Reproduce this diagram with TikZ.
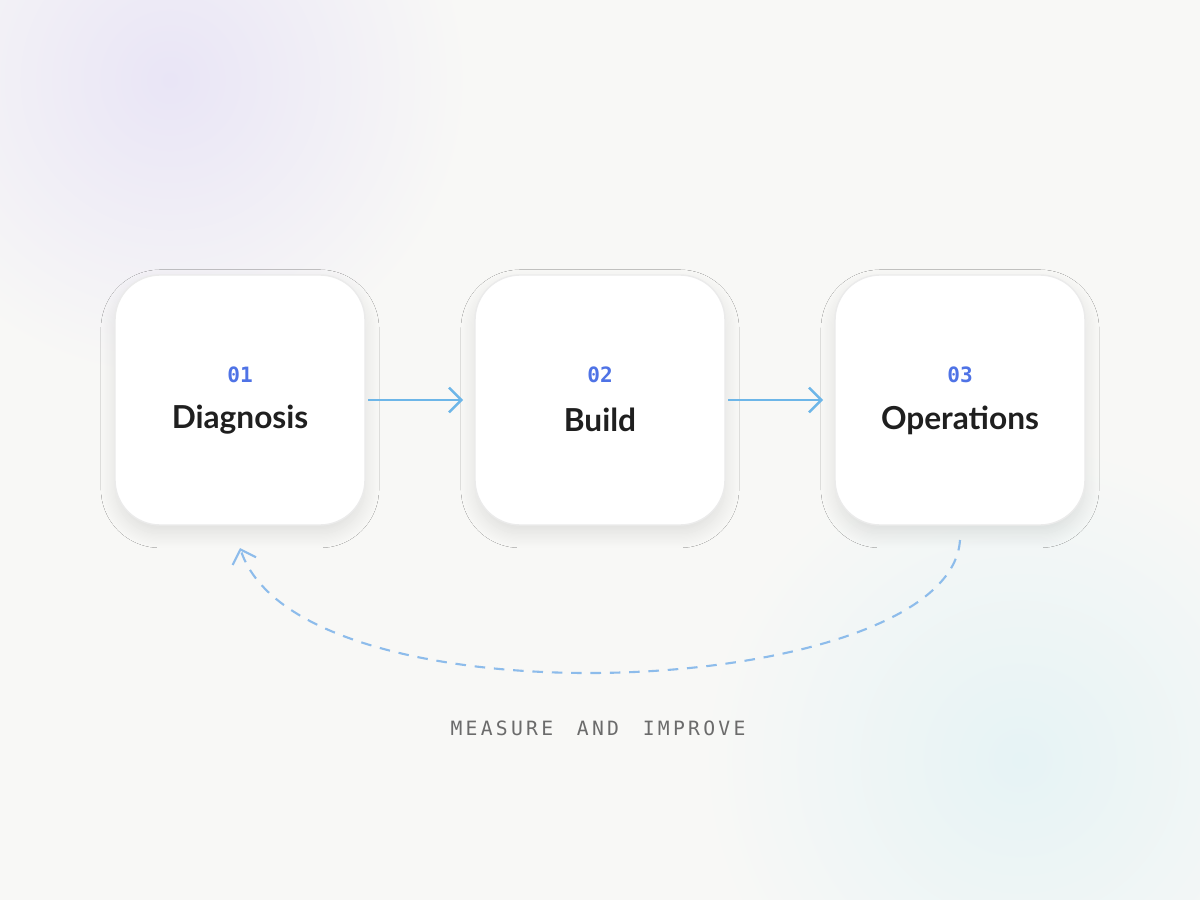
\documentclass[tikz,border=0pt]{standalone}
\usepackage{fontspec}
\setmainfont{Lato}
\setmonofont{DejaVu Sans Mono}
\usetikzlibrary{shadows.blur,arrows.meta}
\definecolor{bg}{HTML}{F8F8F6}
\definecolor{lilac}{HTML}{E9E5F6}
\definecolor{mint}{HTML}{E6F3F5}
\definecolor{numblue}{HTML}{4F73E6}
\definecolor{arrblue}{HTML}{6DB6E8}
\definecolor{dashblue}{HTML}{8DBCEB}
\definecolor{labgray}{HTML}{6B6B6B}
\newcommand{\boxr}{45}

\begin{document}
\begin{tikzpicture}[x=0.01cm,y=-0.01cm,
  stage/.style={draw=black!8, fill=white, rounded corners=\boxr*0.01cm,
    minimum width=250*0.01cm, minimum height=250*0.01cm,
    blur shadow={shadow blur steps=12, shadow xshift=0pt, shadow yshift=-2.5pt,
      shadow blur radius=4pt, shadow opacity=10}},
  num/.style={font=\ttfamily\bfseries\fontsize{6}{7}\selectfont, text=numblue},
  ttl/.style={font=\bfseries\fontsize{9}{11}\selectfont, text=black!88},
  flow/.style={arrblue, line width=0.7pt, -{Straight Barb[length=3.5pt,width=7pt]}}]
    % backdrop
\useasboundingbox (0,0) rectangle (1200,900);
\begin{scope}
\clip (0,0) rectangle (1200,900);
\fill[bg] (0,0) rectangle (1200,900);
\shade[inner color=lilac, outer color=bg] (170,80) circle (300);
\shade[inner color=mint, outer color=bg] (1020,760) circle (320);
\end{scope}
    % stages
\node (diag) at (240,400) [stage] {};
\node (build) at (600,400) [stage] {};
\node (ops) at (960,400) [stage] {};
\node (n1) at (240,375) [num] {01};
\node (n2) at (600,375) [num] {02};
\node (n3) at (960,375) [num] {03};
\node (t1) at (240,420) [ttl] {Diagnosis};
\node (t2) at (600,420) [ttl] {Build};
\node (t3) at (960,420) [ttl] {Operations};
\coordinate (a1) at (368,400);
\coordinate (b1) at (463,400);
\coordinate (a2) at (728,400);
\coordinate (b2) at (823,400);
\draw[flow] (a1) -- (b1);
\draw[flow] (a2) -- (b2);
    % feedback loop
\coordinate (loopS) at (960,540);
\coordinate (loopE) at (240,548);
\draw[dashblue, line width=0.6pt, dash pattern=on 3pt off 2.5pt,
  -{Straight Barb[length=3.5pt,width=7pt]}]
  (loopS) .. controls (950,700) and (300,730) .. (loopE);
\node (lab) at (598,728) [font=\ttfamily\fontsize{5.6}{7}\selectfont, text=labgray]
  {M\,E\,A\,S\,U\,R\,E\ \ A\,N\,D\ \ I\,M\,P\,R\,O\,V\,E};
  \end{tikzpicture}
\end{document}
